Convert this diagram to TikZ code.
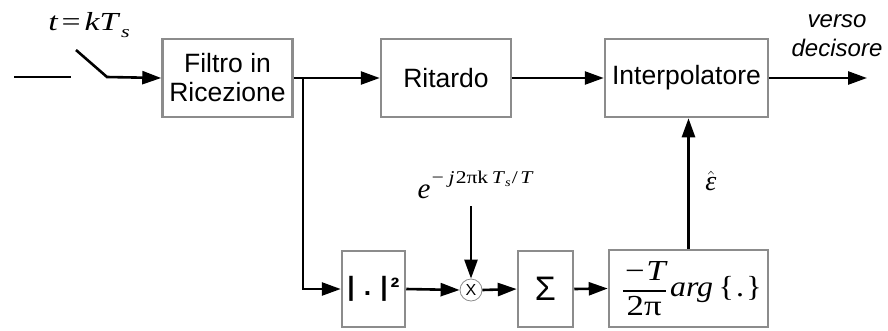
\documentclass[tikz,border=0pt]{standalone}
\usepackage{amsmath}
\usepackage{graphicx}
\usepackage{fontspec}
\setmainfont{Liberation Sans}
\newfontfamily\tms{Liberation Serif}
\newcommand{\largo}[2][1.3]{\scalebox{#1}[1]{#2}}
\usetikzlibrary{arrows.meta, positioning, calc}
\tikzset{
  blocco/.style={draw=black!45, line width=2.5pt, fill=white, inner sep=0pt, align=center},
  freccia/.style={line width=2.6pt, -{Triangle[length=19pt,width=13pt]}},
  linea/.style={line width=2.6pt},
}
\begin{document}
\begin{tikzpicture}[x=1pt,y=-1pt, font=\fontsize{26.5}{29}\selectfont]
\useasboundingbox (0,0) rectangle (888,330);
% upper chain
\node[blocco, minimum width=130pt, minimum height=78pt] (filtro) at (227.5,78) {Filtro in\\Ricezione};
\node[blocco, minimum width=130pt, minimum height=78pt] (ritardo) at (446,78) {Ritardo};
\node[blocco, minimum width=163pt, minimum height=78pt] (interp) at (686.5,78) {Interpolatore};
\node[align=center, font=\fontsize{24}{29}\selectfont\itshape] (verso) at (837,36) {verso\\decisore};
\coordinate (uscita) at (867,78);

% sampling switch
\coordinate (in0) at (14,77);
\coordinate (in1) at (71,77);
\coordinate (sw0) at (76,50);
\coordinate (sw1) at (107,77);
\node[font=\fontsize{26}{26}\selectfont\tms] (tks) at (89,25)
  {\largo{\itshape t\kern3pt{\upshape =}\kern3pt kT\kern2pt\raisebox{-7pt}{\fontsize{17}{17}\selectfont s}}};

% lower chain
\node[blocco, minimum width=63pt, minimum height=76pt] (abs) at (373.5,289) {\bfseries|\kern9pt.\kern9pt|\kern3pt\raisebox{-1pt}{²}};
\node[circle, draw=black!45, line width=0.8pt, minimum size=22pt, inner sep=0pt, font=\fontsize{16}{16}\selectfont] (mult) at (471,290) {X};
\node[blocco, minimum width=55pt, minimum height=76pt, font=\fontsize{34}{34}\selectfont] (sigma) at (545.5,289) {Σ};
\node[blocco, minimum width=159pt, minimum height=77pt, font=\fontsize{29}{30}\selectfont\tms] (argb) at (688.5,288.5)
  {\kern6pt\largo[1.2]{$\genfrac{}{}{1.6pt}{0}{\text{\tms\itshape −T}}{\text{\tms 2π}}$}\kern3pt\largo[1.1]{\itshape arg\kern5pt{\upshape\{\kern2pt.\kern2pt\}}}};
\node[anchor=base west, font=\tms] (espo) at (414,198)
  {\fontsize{29}{29}\selectfont\itshape e\kern0pt\raisebox{15pt}{\fontsize{18}{18}\selectfont\largo[1.2]{−\kern3pt j\kern1pt{\upshape 2πk}\kern3pt T\kern1pt\raisebox{-3pt}{\fontsize{12}{12}\selectfont s}\kern1pt{\upshape /}\kern2pt T}}};
\coordinate (espo0) at (471,206);
\node[font=\fontsize{28}{28}\selectfont] (eps) at (711,181) {$\hat{\text{\tms\itshape ε}}$};
\coordinate (ramo) at (303,78);

% connectors
\draw[linea] (in0) -- (in1);
\draw[freccia] (sw0) -- (sw1) -- (filtro.west);
\foreach \a/\b in {filtro/ritardo, ritardo/interp, abs/mult, mult/sigma, sigma/argb}
  \draw[freccia] (\a.east) -- (\b.west);
\draw[freccia] (interp.east) -- (uscita);
\draw[freccia] (ramo) |- (abs.west);
\draw[freccia] (espo0) -- (mult.north);
\draw[freccia] (argb.north) -- (argb.north |- interp.south);
\end{tikzpicture}
\end{document}
